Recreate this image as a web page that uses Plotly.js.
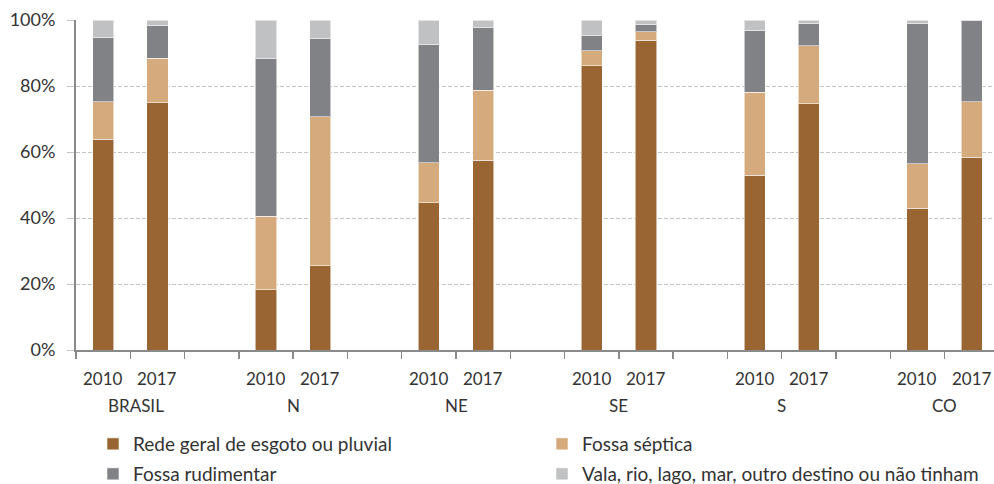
<!DOCTYPE html>
<html>
<head>
<meta charset="utf-8">
<script src="https://cdn.plot.ly/plotly-3.0.1.min.js"></script>
<style>html,body{margin:0;padding:0;background:#fff;}#chart{width:994px;height:484px;}</style>
</head>
<body>
<div id="chart"></div>
<script>
// ---- data ----
var regions = ['BRASIL', 'N', 'NE', 'SE', 'S', 'CO'];
var years = ['2010', '2017'];
var seriesNames = ['Rede geral de esgoto ou pluvial', 'Fossa séptica', 'Fossa rudimentar', 'Vala, rio, lago, mar, outro destino ou não tinham'];
// order: BRASIL 2010, BRASIL 2017, N 2010, N 2017, NE ..., SE ..., S ..., CO ...
var rede       = [63.9, 75.0, 18.2, 25.6, 44.6, 57.5, 86.1, 93.8, 53.0, 74.6, 43.0, 58.4];
var septica    = [11.4, 13.4, 22.4, 45.1, 12.2, 21.2,  4.6,  2.7, 25.1, 17.6, 13.4, 16.9];
var rudimentar = [19.4, 10.0, 47.7, 23.6, 35.8, 19.0,  4.5,  2.2, 18.8,  6.8, 42.6, 24.4];
var vala       = [ 5.3,  1.6, 11.7,  5.7,  7.4,  2.3,  4.8,  1.3,  3.1,  1.0,  1.0,  0.3];
var yTicks = [0, 20, 40, 60, 80, 100];
var yTickText = ['0%', '20%', '40%', '60%', '80%', '100%'];

// ---- style ----
var colors = ['#996633', '#D5AA7D', '#808285', '#C0C1C3'];
var FONT = 'Lato, "Open Sans", sans-serif';
var TXT = '#333333';
var FS = 17;

// build categories: region|year for bars, blank spacers between regions
var xCats = [];
var catOrder = [];
var annotations = [];
regions.forEach(function (r, ri) {
  if (ri > 0) catOrder.push(' '.repeat(ri));
  var first = catOrder.length;
  years.forEach(function (y) {
    var c = r + ' ' + y;
    xCats.push(c);
    catOrder.push(c);
    annotations.push({x: catOrder.length - 1, xref: 'x', y: 0, yref: 'paper', yanchor: 'middle',
      yshift: -28, text: y, showarrow: false, font: {family: FONT, size: FS, color: TXT}});
  });
  annotations.push({x: first + 0.5, xref: 'x', y: 0, yref: 'paper', yanchor: 'middle',
    yshift: -55, xshift: (ri === 0 ? 6 : 0), text: r, showarrow: false, font: {family: FONT, size: FS, color: TXT}});
});

var vals = [rede, septica, rudimentar, vala];
var traces = vals.map(function (v, i) {
  return {
    type: 'bar', x: xCats, y: v, name: seriesNames[i],
    marker: {color: colors[i], line: {color: 'rgba(255,255,255,0.55)', width: 1}},
    legend: i < 2 ? 'legend' : 'legend2',
    hoverinfo: 'x+y+name'
  };
});

var legendBase = {
  orientation: 'h', traceorder: 'normal', xref: 'container', yref: 'container', xanchor: 'left', yanchor: 'middle',
  x: 93 / 994, entrywidth: 404, entrywidthmode: 'pixels',
  font: {family: FONT, size: 19, color: TXT}, bgcolor: 'rgba(0,0,0,0)', itemclick: false
};

var layout = {
  width: 994, height: 484,
  margin: {l: 76, r: 0, t: 20, b: 134, pad: 0},
  paper_bgcolor: '#ffffff', plot_bgcolor: '#ffffff',
  barmode: 'stack', bargap: 0.61,
  showlegend: true,
  legend: Object.assign({}, legendBase, {y: 1 - 444 / 484}),
  legend2: Object.assign({}, legendBase, {y: 1 - 474 / 484}),
  xaxis: {
    type: 'category', categoryorder: 'array', categoryarray: catOrder,
    range: [-0.5, 16.41], tickson: 'boundaries', ticks: 'outside', ticklen: 7, tickwidth: 1.5,
    tickcolor: '#8a8a8a', showticklabels: false, showgrid: false, zeroline: false,
    showline: true, linecolor: '#8a8a8a', linewidth: 2, fixedrange: true
  },
  yaxis: {
    range: [0, 100], tickmode: 'array', tickvals: yTicks, ticktext: yTickText, ticks: 'outside', ticklen: 7,
    tickwidth: 1, tickcolor: '#c4c4c4', ticklabelstandoff: 8,
    showgrid: true, gridcolor: '#c4c4c4', gridwidth: 1, griddash: '4px,2px',
    zeroline: false, showline: true, linecolor: '#8a8a8a', linewidth: 2,
    tickfont: {family: FONT, size: 18, color: TXT}, fixedrange: true
  },
  annotations: annotations,
  font: {family: FONT, size: FS, color: TXT}
};

Plotly.newPlot('chart', traces, layout, {displayModeBar: false, staticPlot: true});
</script>
</body>
</html>
